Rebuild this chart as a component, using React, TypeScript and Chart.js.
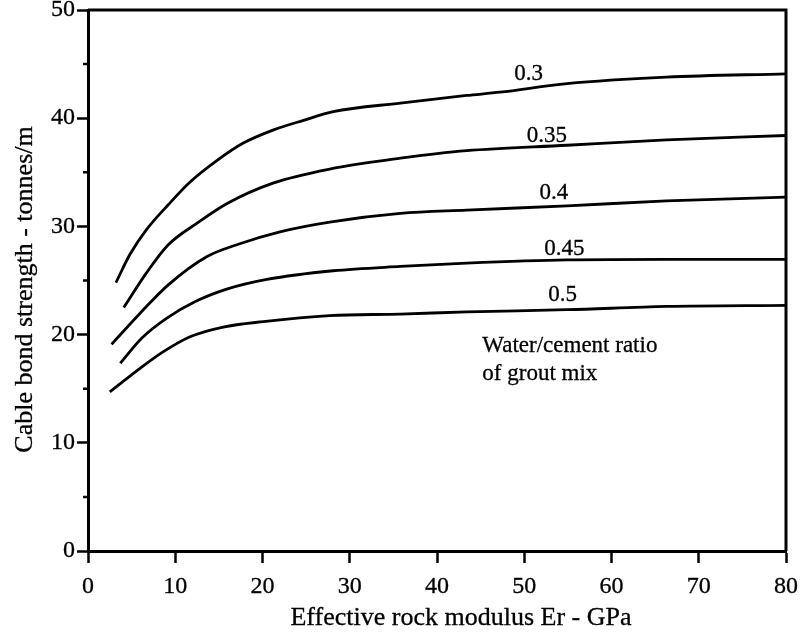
import { useEffect, useRef } from "react";
import { Chart, registerables } from "chart.js";

Chart.register(...registerables);

// ---- data ----
const seriesNames = ["0.3", "0.35", "0.4", "0.45", "0.5"];

const x030 = [3.2, 4.8, 6.7, 9.2, 11.7, 14.8, 17.8, 21.2, 24.7, 28.1, 35.8, 43.4, 47.2, 54.9, 66.3, 80];
const y030 = [24.8, 27.4, 29.7, 32.0, 34.1, 36.1, 37.7, 38.9, 39.8, 40.6, 41.4, 42.1, 42.4, 43.2, 43.8, 44.1];

const x035 = [4.1, 6.7, 9.2, 12.5, 15.9, 21.2, 27.7, 35.8, 43.4, 54.9, 66.3, 80];
const y035 = [22.5, 25.7, 28.3, 30.3, 32.1, 34.0, 35.3, 36.3, 37.0, 37.5, 38.0, 38.4];

const x040 = [2.7, 6.0, 9.2, 13.6, 17.4, 22.0, 27.7, 35.8, 43.4, 54.9, 66.3, 80];
const y040 = [19.1, 22.0, 24.6, 27.2, 28.4, 29.5, 30.4, 31.2, 31.5, 31.9, 32.35, 32.7];

const x045 = [3.7, 6.15, 9.0, 12.3, 15.9, 20.5, 28.1, 35.8, 43.4, 54.9, 66.3, 80];
const y045 = [17.35, 19.66, 21.5, 23.05, 24.2, 25.1, 25.9, 26.3, 26.6, 26.9, 26.95, 26.95];

const x050 = [2.5, 6.0, 8.6, 11.7, 15.5, 20.1, 27.7, 35.8, 43.4, 54.9, 66.3, 80];
const y050 = [14.7, 16.9, 18.4, 19.8, 20.7, 21.2, 21.75, 21.9, 22.1, 22.3, 22.6, 22.7];

const seriesX = [x030, x035, x040, x045, x050];
const seriesY = [y030, y035, y040, y045, y050];

// curve label anchors (data units)
const curveLabelX = [50.5, 52.6, 53.4, 54.6, 54.4];
const curveLabelY = [44.1, 38.4, 33.1, 27.96, 23.7];

// note text
const noteLines = ["Water/cement ratio", "of grout mix"];
const noteX = 45.2;
const noteY = [18.4, 15.8];

const minorYTicks = [5, 15, 25, 35, 45];

const xTitle = "Effective rock modulus Er - GPa";
const yTitle = "Cable bond strength - tonnes/m";

const FONT = "'Liberation Serif', 'Times New Roman', serif";
const STROKE = 0.3;

export default function App() {
  const ref = useRef<HTMLCanvasElement | null>(null);

  useEffect(() => {
    const canvas = ref.current;
    if (!canvas) return;

    const drawText = (ctx: any, t: string, x: number, y: number) => {
      ctx.strokeText(t, x, y);
      ctx.fillText(t, x, y);
    };

    const overlay = {
      id: "overlay",
      afterDatasetsDraw(chart: any) {
        const { ctx, chartArea, scales } = chart;
        const xs = scales.x;
        const ys = scales.y;
        ctx.save();
        // frame top and right
        ctx.strokeStyle = "#000";
        ctx.lineWidth = 3;
        ctx.beginPath();
        ctx.moveTo(chartArea.left, chartArea.top);
        ctx.lineTo(chartArea.right, chartArea.top);
        ctx.lineTo(chartArea.right, chartArea.bottom);
        ctx.stroke();
        // minor ticks on y axis
        ctx.lineWidth = 2.5;
        ctx.beginPath();
        for (const v of minorYTicks) {
          const py = ys.getPixelForValue(v);
          ctx.moveTo(chartArea.left - 5, py);
          ctx.lineTo(chartArea.left, py);
        }
        ctx.stroke();
        // text
        ctx.fillStyle = "#000";
        ctx.strokeStyle = "#000";
        ctx.lineWidth = STROKE;
        ctx.font = `23px ${FONT}`;
        ctx.textAlign = "center";
        ctx.textBaseline = "middle";
        seriesNames.forEach((name, i) => {
          drawText(ctx, name, xs.getPixelForValue(curveLabelX[i]), ys.getPixelForValue(curveLabelY[i]));
        });
        ctx.textAlign = "left";
        ctx.textBaseline = "alphabetic";
        noteLines.forEach((t, i) => {
          drawText(ctx, t, xs.getPixelForValue(noteX), ys.getPixelForValue(noteY[i]));
        });
        // axis titles
        ctx.font = `26px ${FONT}`;
        ctx.textAlign = "center";
        ctx.textBaseline = "middle";
        drawText(ctx, xTitle, (chartArea.left + chartArea.right) / 2 + 24, chartArea.bottom + 67);
        ctx.save();
        ctx.translate(25, (chartArea.top + chartArea.bottom) / 2 + 9);
        ctx.rotate(-Math.PI / 2);
        drawText(ctx, yTitle, 0, 0);
        ctx.restore();
        ctx.restore();
      },
    };

    const tickFont = { family: FONT, size: 24 };

    const chart = new Chart(canvas, {
      type: "line",
      data: {
        datasets: seriesNames.map((name, i) => ({
          label: name,
          data: seriesX[i].map((x, j) => ({ x, y: seriesY[i][j] })),
          borderColor: "#000",
          borderWidth: 2.8,
          pointRadius: 0,
          fill: false,
          tension: 0.3,
          cubicInterpolationMode: "monotone" as const,
        })),
      },
      options: {
        animation: false,
        responsive: false,
        events: [],
        layout: { padding: { top: 10, right: 23, left: 0, bottom: 0 } },
        plugins: {
          legend: { display: false },
          tooltip: { enabled: false },
        },
        scales: {
          x: {
            type: "linear",
            min: 0,
            max: 80,
            ticks: {
              stepSize: 10,
              color: "#000",
              font: tickFont,
              padding: 9,
              maxRotation: 0,
              textStrokeColor: "#000",
              textStrokeWidth: STROKE,
            },
            grid: {
              drawOnChartArea: false,
              tickLength: 12,
              tickWidth: 2.5,
              tickColor: "#000",
            },
            border: { display: true, color: "#000", width: 3 },
            afterFit(scale: any) {
              scale.height = 83;
              scale.paddingLeft = 0;
              scale.paddingRight = 0;
            },
          },
          y: {
            type: "linear",
            min: 0,
            max: 50,
            ticks: {
              stepSize: 10,
              color: "#000",
              font: tickFont,
              padding: 2,
              textStrokeColor: "#000",
              textStrokeWidth: STROKE,
            },
            grid: {
              drawOnChartArea: false,
              tickLength: 11,
              tickWidth: 2.5,
              tickColor: "#000",
            },
            border: { display: true, color: "#000", width: 3 },
            afterFit(scale: any) {
              scale.width = 88;
              scale.paddingTop = 0;
              scale.paddingBottom = 0;
            },
          },
        },
      },
      plugins: [overlay],
    });

    return () => chart.destroy();
  }, []);

  return (
    <div style={{ position: "fixed", left: 0, top: 0, width: 809, height: 634, background: "#fff" }}>
      <canvas ref={ref} width={809} height={634} style={{ display: "block" }} />
    </div>
  );
}
